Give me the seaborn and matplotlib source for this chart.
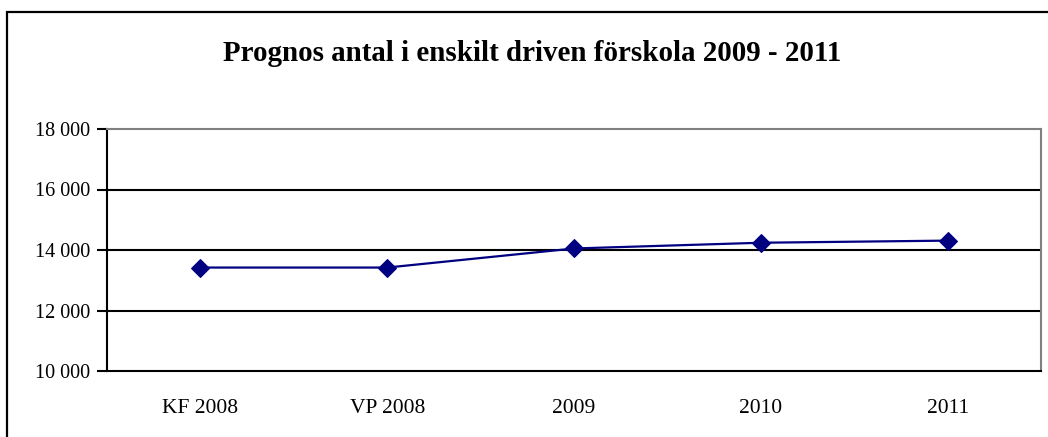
import numpy as np
import pandas as pd
import seaborn as sns
import matplotlib.pyplot as plt
from matplotlib.patches import Rectangle
from matplotlib.ticker import FuncFormatter, FixedLocator

# Data
categories = ["KF 2008", "VP 2008", "2009", "2010", "2011"]
values = [13420, 13420, 14050, 14240, 14310]
title = "Prognos antal i enskilt driven förskola 2009 - 2011"

sns.set_style("white")
plt.rcParams['font.family'] = ['Liberation Serif', 'DejaVu Serif']
plt.rcParams['text.color'] = "black"
plt.rcParams['xtick.color'] = "black"
plt.rcParams['ytick.color'] = "black"

df = pd.DataFrame({"kategori": categories, "antal": values})

fig = plt.figure(figsize=(10.48, 4.37), dpi=100)
W, H = 1048, 437
ax = fig.add_axes([107 / W, 1 - 371 / H, (1041 - 107) / W, (371 - 129) / H])

# Outer chart frame (cut by the image edge on the right and bottom)
fig.patches.append(Rectangle((7 / W, -0.1), 1.2, 1 - 12 / H + 0.1,
                             transform=fig.transFigure, fill=False,
                             edgecolor="black", linewidth=1.6, zorder=0))

# Gridlines
for yv in [12000, 14000, 16000]:
    ax.axhline(yv, color="black", linewidth=1.5, zorder=1)

sns.lineplot(data=df, x="kategori", y="antal", ax=ax, color="#000080",
             linewidth=1.6, marker="D", markersize=9, markeredgecolor="#000080",
             sort=False, zorder=3)

ax.set_xlim(-0.5, len(categories) - 0.5)
ax.set_ylim(10000, 18000)
ax.set_yticks([10000, 12000, 14000, 16000, 18000])
ax.yaxis.set_major_formatter(FuncFormatter(lambda v, p: f"{int(v):,}".replace(",", " ")))

ax.set_xticks(range(len(categories)))
ax.set_xticklabels(categories)
ax.xaxis.set_minor_locator(FixedLocator(np.arange(-0.5, len(categories), 1.0)))
ax.tick_params(axis="x", which="major", length=0, pad=20, labelsize=15.5)
ax.tick_params(axis="x", which="minor", length=6, width=1.5, color="black", direction="out")
ax.tick_params(axis="y", length=7, width=1.5, color="black", pad=5, labelsize=14.5,
               direction="out", left=True)

ax.set_xlabel("")
ax.set_ylabel("")

for side in ["left", "bottom"]:
    ax.spines[side].set_color("black")
    ax.spines[side].set_linewidth(1.5)
for side in ["top", "right"]:
    ax.spines[side].set_visible(True)
    ax.spines[side].set_color("#808080")
    ax.spines[side].set_linewidth(1.5)

fig.text(532.5 / W, 1 - 61 / H, title, ha="center", va="baseline",
         fontsize=20.9, fontweight="bold")

fig.savefig("out.png", dpi=100)
